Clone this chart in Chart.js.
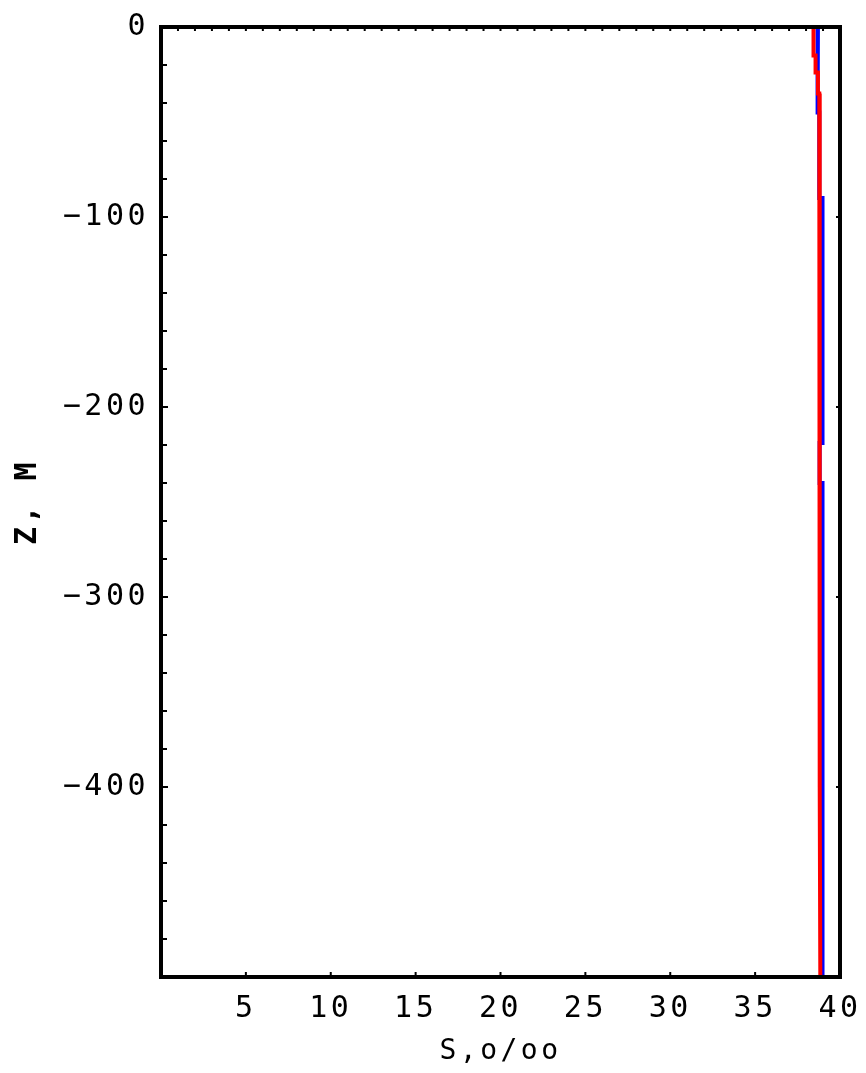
<!DOCTYPE html>
<html>
<head>
<meta charset="utf-8">
<script src="https://cdn.jsdelivr.net/npm/chart.js@4.4.1/dist/chart.umd.min.js"></script>
<style>
  html, body { margin: 0; padding: 0; background: #fff; }
  canvas { display: block; }
</style>
</head>
<body>
<canvas id="profile" width="866" height="1073"></canvas>
<script>
// Профиль солёности: модель (красная) и наблюдения (синяя)
const modelDepth = [0, -15, -15, -24, -24, -35, -35, -100, -200, -300, -400, -500];
const modelSalinity = [38.44, 38.44, 38.56, 38.56, 38.70, 38.70, 38.78, 38.79, 38.80, 38.81, 38.82, 38.84];

const obsDepth = [0, -24, -24, -35, -35, -45, -45, -90, -90, -219, -219, -240, -240, -500];
const obsSalinity = [38.70, 38.70, 38.70, 38.70, 38.65, 38.65, 38.78, 38.78, 38.97, 38.97, 38.80, 38.80, 38.97, 38.97];

// подписи осей
const xTicks = [5, 10, 15, 20, 25, 30, 35, 40];
const yTicks = [0, -100, -200, -300, -400];
const yMinorStep = 20;   // мелкие засечки слева
const xTopStep = 1;      // засечки по верхней рамке

const MONO = 'DejaVu Sans Mono';

function toPoints(xs, ys) {
  return ys.map((z, i) => ({ x: xs[i], y: z }));
}

// рамка и засечки внутрь, как в Mathematica
const framePlugin = {
  id: 'frame',
  beforeDraw(chart) {
    chart.ctx.letterSpacing = '3.5px';
  },
  afterDatasetsDraw(chart) {
    const { ctx, chartArea: a, scales: { x, y } } = chart;
    ctx.save();
    ctx.letterSpacing = '0px';
    ctx.strokeStyle = '#000';
    ctx.lineWidth = 2;
    ctx.beginPath();

    // левая сторона
    for (let v = y.max; v >= y.min; v -= yMinorStep) {
      const py = y.getPixelForValue(v);
      const len = v % 100 === 0 ? 7 : 6;
      ctx.moveTo(a.left, py);
      ctx.lineTo(a.left + len, py);
    }
    // правая сторона — только крупные
    for (let v = y.max; v >= y.min; v -= 100) {
      const py = y.getPixelForValue(v);
      ctx.moveTo(a.right, py);
      ctx.lineTo(a.right - 4, py);
    }
    // низ
    xTicks.forEach(v => {
      const px = x.getPixelForValue(v);
      ctx.moveTo(px, a.bottom);
      ctx.lineTo(px, a.bottom - 5);
    });
    // верх
    for (let v = x.min + xTopStep; v < x.max; v += xTopStep) {
      const px = x.getPixelForValue(v);
      ctx.moveTo(px, a.top);
      ctx.lineTo(px, a.top + 4);
    }
    ctx.stroke();

    ctx.lineWidth = 4;
    ctx.strokeRect(a.left, a.top, a.right - a.left, a.bottom - a.top);
    ctx.restore();
  },
  afterDraw(chart) {
    chart.ctx.letterSpacing = '0px';
  }
};

new Chart(document.getElementById('profile'), {
  type: 'scatter',
  data: {
    datasets: [
      {
        label: 'model',
        data: toPoints(modelSalinity, modelDepth),
        showLine: true,
        borderColor: '#ff0000',
        borderWidth: 4,
        pointRadius: 0,
        tension: 0,
        order: 0
      },
      {
        label: 'obs',
        data: toPoints(obsSalinity, obsDepth),
        showLine: true,
        borderColor: '#0000ff',
        borderWidth: 4,
        pointRadius: 0,
        tension: 0,
        order: 1
      }
    ]
  },
  options: {
    responsive: false,
    animation: false,
    layout: { padding: { top: 27, right: 26, left: 0, bottom: 0 } },
    plugins: {
      legend: { display: false },
      tooltip: { enabled: false }
    },
    scales: {
      x: {
        type: 'linear',
        min: 0,
        max: 40,
        afterFit: s => {
          s.height = 96;
          s.paddingLeft = 0;
          s.paddingRight = 0;
        },
        afterBuildTicks: s => { s.ticks = xTicks.map(v => ({ value: v })); },
        grid: { display: false, drawTicks: false },
        border: { display: false },
        ticks: {
          color: '#000',
          font: { family: MONO, size: 30 },
          padding: 14,
          maxRotation: 0,
          autoSkip: false
        },
        title: {
          display: true,
          text: 'S,o/oo',
          color: '#000',
          font: { family: MONO, size: 28 },
          padding: { top: 0, bottom: 4 }
        }
      },
      y: {
        type: 'linear',
        min: -500,
        max: 0,
        afterFit: s => {
          s.width = 161;
          s.paddingTop = 0;
          s.paddingBottom = 0;
        },
        afterBuildTicks: s => { s.ticks = yTicks.map(v => ({ value: v })); },
        grid: { display: false, drawTicks: false },
        border: { display: false },
        ticks: {
          color: '#000',
          font: { family: MONO, size: 30 },
          padding: 12,
          autoSkip: false,
          callback: v => String(v).replace('-', '\u2212')
        },
        title: {
          display: true,
          text: 'Z, М',
          color: '#000',
          font: { family: MONO, size: 30, weight: 'bold' },
          padding: { top: 10, bottom: 0 }
        }
      }
    }
  },
  plugins: [framePlugin]
});
</script>
</body>
</html>
